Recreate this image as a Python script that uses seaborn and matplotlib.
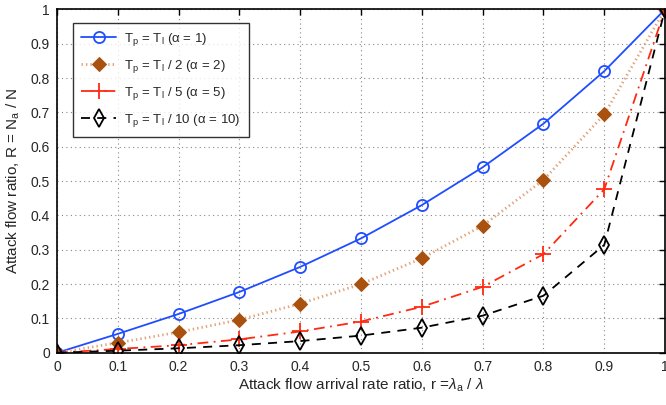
import numpy as np
import pandas as pd
import matplotlib
matplotlib.use("Agg")
import matplotlib.pyplot as plt
import seaborn as sns

r = [0.0, 0.1, 0.2, 0.3, 0.4, 0.5, 0.6, 0.7, 0.8, 0.9, 1.0]
R_a1 = [0.0, 0.055, 0.113, 0.177, 0.25, 0.333, 0.43, 0.54, 0.667, 0.82, 1.0]
R_a2 = [0.0, 0.029, 0.06, 0.096, 0.143, 0.2, 0.275, 0.37, 0.503, 0.694, 1.0]
R_a5 = [0.0, 0.011, 0.022, 0.039, 0.062, 0.091, 0.134, 0.192, 0.287, 0.476, 1.0]
R_a10 = [0.0, 0.006, 0.013, 0.022, 0.034, 0.05, 0.073, 0.108, 0.166, 0.314, 1.0]
labels = [r'T$_\mathrm{p}$ = T$_\mathrm{l}$ (α = 1)',
          r'T$_\mathrm{p}$ = T$_\mathrm{l}$ / 2 (α = 2)',
          r'T$_\mathrm{p}$ = T$_\mathrm{l}$ / 5 (α = 5)',
          r'T$_\mathrm{p}$ = T$_\mathrm{l}$ / 10 (α = 10)']
ticks = [0, 0.1, 0.2, 0.3, 0.4, 0.5, 0.6, 0.7, 0.8, 0.9, 1]
tick_labels = ['0', '0.1', '0.2', '0.3', '0.4', '0.5', '0.6', '0.7', '0.8', '0.9', '1']

sns.set_theme(style="white")
plt.rcParams['font.family'] = ['Liberation Sans', 'DejaVu Sans']
plt.rcParams['mathtext.fontset'] = 'custom'
plt.rcParams['mathtext.rm'] = 'Liberation Sans'
plt.rcParams['mathtext.it'] = 'Liberation Sans:italic'
plt.rcParams['mathtext.sf'] = 'Liberation Sans'

fig = plt.figure(figsize=(6.66, 4.05), dpi=100)
ax = fig.add_axes([0.0856, 0.129, 0.913, 0.848])

df = pd.DataFrame({'r': r, 'a1': R_a1, 'a2': R_a2, 'a5': R_a5, 'a10': R_a10})

sns.lineplot(data=df, x='r', y='a1', ax=ax, color='#1f4dff', lw=1.3,
             marker='o', markersize=8, markerfacecolor='none',
             markeredgecolor='#1f4dff', markeredgewidth=1.3, label=labels[0])
sns.lineplot(data=df, x='r', y='a2', ax=ax, color='#e0a47c', lw=2.0,
             linestyle=(0, (0.5, 1.1)),
             marker='D', markersize=7.5, markerfacecolor='#a9520f',
             markeredgecolor='#a9520f', label=labels[1])
sns.lineplot(data=df, x='r', y='a5', ax=ax, color='#ff2a10', lw=1.3,
             linestyle=(0, (6, 3, 1, 3)),
             marker='+', markersize=11, markeredgewidth=1.3,
             markeredgecolor='#ff2a10', label=labels[2])
sns.lineplot(data=df, x='r', y='a10', ax=ax, color='black', lw=1.3,
             linestyle=(0, (5, 4)),
             marker='d', markersize=9, markerfacecolor='none',
             markeredgecolor='black', markeredgewidth=1.3, label=labels[3])

ax.set_xlim(0, 1)
ax.set_ylim(0, 1)
ax.set_xticks(ticks)
ax.set_xticklabels(tick_labels, fontsize=10)
ax.set_yticks(ticks)
ax.set_yticklabels(tick_labels, fontsize=10)
ax.grid(True, linestyle=(0, (1, 3)), color='#888888', lw=0.8)
ax.tick_params(direction='in', top=True, right=True, length=4, width=1,
               color='black', pad=5)
for s in ax.spines.values():
    s.set_color('black')
    s.set_linewidth(1.2)
ax.set_xlabel(r'Attack flow arrival rate ratio, r =$\lambda_\mathrm{a}$ / $\lambda$', fontsize=11, labelpad=2)
ax.set_ylabel(r'Attack flow ratio, R = N$_\mathrm{a}$ / N', fontsize=11, labelpad=6)

leg = ax.legend(loc='upper left', bbox_to_anchor=(0.026, 0.96), borderaxespad=0,
                fontsize=9.5, frameon=True, fancybox=False, edgecolor='black',
                handlelength=2.7, handletextpad=0.6, borderpad=0.6,
                labelspacing=0.75)
leg.get_frame().set_linewidth(1.0)

fig.savefig('out.png', dpi=100)
